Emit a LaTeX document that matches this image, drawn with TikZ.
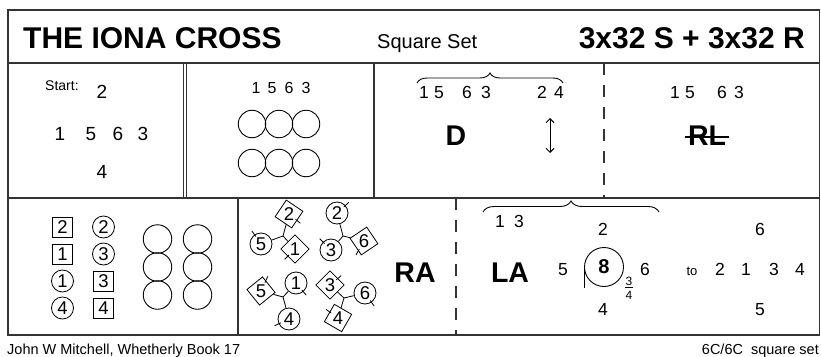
\documentclass[tikz,border=0pt]{standalone}
\usepackage{fontspec}
\setmainfont{Liberation Sans}
\usetikzlibrary{arrows.meta,decorations.pathreplacing,calc}
\newcommand\dtick[2]{\draw[ticksty] ($(#1.center)!0.8!(#1.#2)$) -- ($(#1.center)!1.4!(#1.#2)$);}
\begin{document}
\begin{tikzpicture}[x=1pt,y=-1pt,
  frame/.style={line width=1.3pt, draw=black!80},
  thinframe/.style={line width=1pt, draw=black!80},
  dashline/.style={line width=1.1pt, draw=black!80, dash pattern=on 12pt off 10pt},
  txt/.style={inner sep=0pt, anchor=base},
  fa/.style={txt, font=\fontsize{16}{18}\selectfont},
  fb/.style={txt, font=\fontsize{17.5}{20}\selectfont},
  fc/.style={txt, font=\fontsize{19}{22}\selectfont},
  bigb/.style={txt, font=\bfseries\fontsize{28.5}{32}\selectfont},
  bigc/.style={circle, draw, line width=0.9pt, minimum size=27.5pt, inner sep=0pt},
  dc/.style={circle, draw, line width=0.8pt, minimum size=22pt, inner sep=0pt, font=\fontsize{18.5}{20}\selectfont},
  ds/.style={rectangle, draw, line width=0.8pt, minimum size=20pt, inner sep=0pt, font=\fontsize{18.5}{20}\selectfont},
  dtxt/.style={inner sep=0pt, font=\fontsize{18.5}{20}\selectfont},
  ticksty/.style={line width=0.8pt},
  bracesty/.style={line width=0.9pt, decorate},
]
\useasboundingbox (0,0) rectangle (821,356);
\fill[white] (0,0) rectangle (821,356);

% frame
\draw[frame] (8,10) rectangle (819.5,335);
\draw[frame] (8,63) -- (819.5,63);
\draw[frame] (8,198) -- (819.5,198);
\draw[thinframe] (183.8,63) -- (183.8,198);
\draw[thinframe] (186.6,63) -- (186.6,198);
\draw[frame] (374,63) -- (374,198);
\draw[dashline] (604,63) -- (604,198);
\draw[frame] (238,198) -- (238,335);
\draw[dashline] (456,198) -- (456,335);

% title row
\node[txt, anchor=base west, font=\bfseries\fontsize{30}{36}\selectfont] (title) at (23,48) {THE IONA CROSS};
\node[txt, anchor=base west, font=\fontsize{20}{24}\selectfont] (settype) at (377,48) {Square Set};
\node[txt, anchor=base east, font=\bfseries\fontsize{30}{36}\selectfont] (tempo) at (805,48) {3x32 S + 3x32 R};

% middle cell 1
\node[txt, anchor=base west, font=\fontsize{14}{16}\selectfont] (start) at (45,90) {Start:};
\node[fc] (st2) at (102,98) {2};
\node[fc] (st1) at (60,140) {1};
\node[fc] (st5) at (91,140) {5};
\node[fc] (st6) at (118,140) {6};
\node[fc] (st3) at (143,140) {3};
\node[fc] (st4) at (102,178) {4};

% middle cell 2
\node[fa] (m1) at (256,93) {1};
\node[fa] (m5) at (272,93) {5};
\node[fa] (m6) at (289,93) {6};
\node[fa] (m3) at (306,93) {3};
\node[bigc] (ca1) at (252,124) {};
\node[bigc] (ca2) at (279,124) {};
\node[bigc] (ca3) at (306,124) {};
\node[bigc] (cb1) at (252,163) {};
\node[bigc] (cb2) at (279,163) {};
\node[bigc] (cb3) at (306,163) {};

% middle cell 3
\coordinate (brA) at (417,83);
\coordinate (brB) at (563,83);
\draw[bracesty, decoration={brace, amplitude=10pt}] (brA) -- (brB);
\node[fb] (d1) at (424,98) {1};
\node[fb] (d5) at (439,98) {5};
\node[fb] (d6) at (467,98) {6};
\node[fb] (d3) at (486,98) {3};
\node[fb] (d2) at (542,98) {2};
\node[fb] (d4) at (559,98) {4};
\node[bigb] (dD) at (456,145) {D};
\coordinate (arrT) at (550,118);
\coordinate (arrB) at (550,153);
\draw[line width=0.9pt, {Straight Barb[length=4pt,width=8pt]}-{Straight Barb[length=4pt,width=8pt]}] (arrT) -- (arrB);

% middle cell 4
\node[fb] (r1) at (675,98) {1};
\node[fb] (r5) at (690,98) {5};
\node[fb] (r6) at (722,98) {6};
\node[fb] (r3) at (739,98) {3};
\node[bigb] (rl) at (707,145) {RL};
\draw[line width=1.2pt] ($(rl.base west)+(-3,-8)$) -- ($(rl.base east)+(3,-8)$);

% bottom cell 1
\node[ds] (q1) at (62.5,227) {2};
\node[dc] (q2) at (103.5,227) {2};
\node[ds] (q3) at (62.5,254) {1};
\node[dc] (q4) at (103.5,254) {3};
\node[dc] (q5) at (62.5,281) {1};
\node[ds] (q6) at (103.5,281) {3};
\node[dc] (q7) at (62.5,308) {4};
\node[ds] (q8) at (103.5,308) {4};
\node[bigc, minimum size=28.5pt] (e1) at (157.5,239) {};
\node[bigc, minimum size=28.5pt] (e2) at (157.5,267) {};
\node[bigc, minimum size=28.5pt] (e3) at (157.5,295) {};
\node[bigc, minimum size=28.5pt] (e4) at (197.5,239) {};
\node[bigc, minimum size=28.5pt] (e5) at (197.5,267) {};
\node[bigc, minimum size=28.5pt] (e6) at (197.5,295) {};

% bottom cell 2: RA figure
% group 1
\node[ds, rotate=-34] (g1a) at (289,214) {};
\node[dtxt] (g1at) at (g1a) {2};
\node[dc] (g1b) at (261,244) {5};
\node[ds, rotate=45] (g1c) at (295,249) {};
\node[dtxt] (g1ct) at (g1c) {1};
\coordinate (j1) at (283,236);
\draw[ticksty] (j1) -- (g1a);
\draw[ticksty] (j1) -- (g1b);
\draw[ticksty] (j1) -- (g1c);
\dtick{g1a}{-5}
\dtick{g1b}{125}
\dtick{g1c}{180}
% group 2
\node[dc] (g2a) at (337,213) {2};
\node[dc] (g2b) at (331,250) {3};
\node[ds, rotate=34] (g2c) at (364,241) {};
\node[dtxt] (g2ct) at (g2c) {6};
\coordinate (j2) at (343,236);
\draw[ticksty] (j2) -- (g2a);
\draw[ticksty] (j2) -- (g2b);
\draw[ticksty] (j2) -- (g2c);
\dtick{g2a}{42}
\dtick{g2b}{135}
\dtick{g2c}{206}
% group 3
\node[ds, rotate=39] (g3a) at (261,291) {};
\node[dtxt] (g3at) at (g3a) {5};
\node[dc] (g3b) at (296,283) {1};
\node[dc] (g3c) at (289,319) {4};
\coordinate (j3) at (283,297);
\draw[ticksty] (j3) -- (g3a);
\draw[ticksty] (j3) -- (g3b);
\draw[ticksty] (j3) -- (g3c);
\dtick{g3a}{26}
\dtick{g3b}{-50}
\dtick{g3c}{205}
% group 4
\node[ds, rotate=45] (g4a) at (330,285) {};
\node[dtxt] (g4at) at (g4a) {3};
\node[dc] (g4b) at (365,293) {6};
\node[ds, rotate=-30] (g4c) at (338,318) {};
\node[dtxt] (g4ct) at (g4c) {4};
\coordinate (j4) at (344,298);
\draw[ticksty] (j4) -- (g4a);
\draw[ticksty] (j4) -- (g4b);
\draw[ticksty] (j4) -- (g4c);
\dtick{g4a}{-5}
\dtick{g4b}{-55}
\dtick{g4c}{174}
\node[bigb] (ra) at (415,282) {RA};

% bottom cell 3
\coordinate (brC) at (483,212);
\coordinate (brD) at (659,212);
\draw[bracesty, decoration={brace, amplitude=11pt}] (brC) -- (brD);
\node[fb] (l1) at (500,227) {1};
\node[fb] (l3) at (519,227) {3};
\node[bigb] (la) at (510,282) {LA};
\node[fb] (lt2) at (603,235) {2};
\node[fb] (lt5) at (563,275) {5};
\node[circle, draw, line width=0.9pt, minimum size=39pt, inner sep=0pt, font=\bfseries\fontsize{20}{22}\selectfont] (eight) at (604,267) {8};
\draw[line width=0.9pt] (eight.west) -- ++(0,21);
\node[inner sep=0.5pt, anchor=base, font=\fontsize{12}{13}\selectfont] (fr3) at (629,285) {3};
\node[inner sep=0.5pt, anchor=base, font=\fontsize{12}{13}\selectfont] (fr4) at (629,299) {4};
\draw[line width=0.7pt] ($(fr3.base west)+(0,2)$) -- ($(fr3.base east)+(0,2)$);
\node[fb] (lt6) at (645,275) {6};
\node[fb] (lt4) at (603,315) {4};
\node[txt, font=\fontsize{13}{15}\selectfont] (to) at (692,275) {to};
\node[fb] (t2) at (720,275) {2};
\node[fb] (t1) at (746,275) {1};
\node[fb] (t3) at (774,275) {3};
\node[fb] (t4) at (800,275) {4};
\node[fb] (t6) at (760,235) {6};
\node[fb] (t5) at (760,315) {5};

% footer
\node[txt, anchor=base west, font=\fontsize{14.5}{16}\selectfont] (author) at (7,354) {John W Mitchell, Whetherly Book 17};
\node[txt, anchor=base east, font=\fontsize{14.5}{16}\selectfont] (formation) at (819,354) {6C/6C\ \ square set};
\end{tikzpicture}
\end{document}
